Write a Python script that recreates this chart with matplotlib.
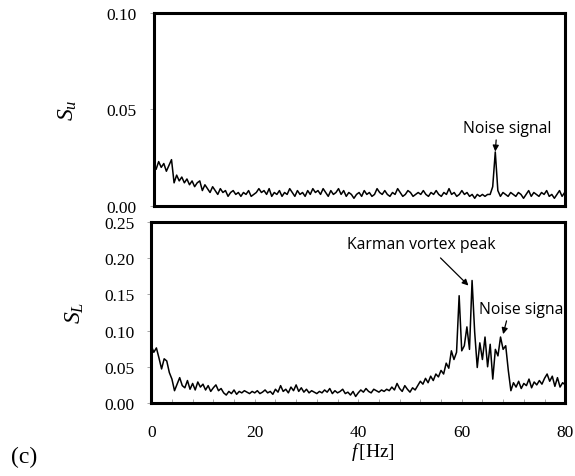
import numpy as np
import matplotlib
matplotlib.use('Agg')
import matplotlib.pyplot as plt
from matplotlib.ticker import MultipleLocator

plt.rcParams['mathtext.fontset'] = 'custom'
plt.rcParams['mathtext.rm'] = 'Liberation Serif'
plt.rcParams['mathtext.it'] = 'Liberation Serif:italic'
plt.rcParams['font.family'] = 'Liberation Serif'

# spectrum resolution (Hz per bin)
df_hz = 0.5

# streamwise velocity spectrum S_u
su = [0.021, 0.019, 0.023, 0.020, 0.022, 0.018, 0.021, 0.024, 0.012, 0.016, 0.013,
      0.015, 0.012, 0.014, 0.011, 0.013, 0.010, 0.012, 0.013, 0.008, 0.011,
      0.009, 0.007, 0.010, 0.008, 0.006, 0.009, 0.007, 0.008, 0.005, 0.007,
      0.008, 0.006, 0.007, 0.005, 0.007, 0.006, 0.008, 0.005, 0.006, 0.007,
      0.009, 0.007, 0.008, 0.006, 0.009, 0.005, 0.007, 0.006, 0.008, 0.005,
      0.007, 0.006, 0.009, 0.007, 0.005, 0.008, 0.006, 0.007, 0.005, 0.008,
      0.006, 0.009, 0.007, 0.008, 0.006, 0.009, 0.007, 0.005, 0.008, 0.006,
      0.007, 0.009, 0.006, 0.008, 0.005, 0.007, 0.006, 0.004, 0.006, 0.007,
      0.005, 0.008, 0.006, 0.007, 0.005, 0.006, 0.009, 0.007, 0.006, 0.008,
      0.006, 0.005, 0.007, 0.006, 0.009, 0.007, 0.005, 0.006, 0.008, 0.007,
      0.005, 0.006, 0.007, 0.006, 0.008, 0.006, 0.005, 0.007, 0.006, 0.008,
      0.006, 0.005, 0.007, 0.006, 0.009, 0.006, 0.007, 0.005, 0.006, 0.008,
      0.006, 0.007, 0.005, 0.006, 0.004, 0.006, 0.005, 0.006, 0.005, 0.006,
      0.006, 0.010, 0.028, 0.008, 0.005, 0.007, 0.006, 0.005, 0.007, 0.006,
      0.005, 0.007, 0.006, 0.004, 0.006, 0.008, 0.005, 0.007, 0.006, 0.005,
      0.007, 0.006, 0.008, 0.005, 0.006, 0.004, 0.006, 0.008, 0.005, 0.007]

# lift spectrum S_L
sl = [0.079, 0.070, 0.076, 0.062, 0.047, 0.061, 0.058, 0.042, 0.033, 0.017, 0.026,
      0.035, 0.024, 0.021, 0.031, 0.019, 0.027, 0.018, 0.029, 0.022, 0.026,
      0.018, 0.024, 0.016, 0.021, 0.025, 0.017, 0.020, 0.014, 0.011, 0.016,
      0.013, 0.018, 0.012, 0.016, 0.014, 0.017, 0.015, 0.013, 0.016, 0.014,
      0.017, 0.013, 0.015, 0.018, 0.014, 0.016, 0.012, 0.019, 0.015, 0.024,
      0.016, 0.019, 0.014, 0.022, 0.017, 0.025, 0.016, 0.021, 0.015, 0.019,
      0.014, 0.017, 0.015, 0.013, 0.016, 0.014, 0.018, 0.015, 0.020, 0.013,
      0.017, 0.014, 0.016, 0.019, 0.013, 0.015, 0.011, 0.016, 0.009, 0.014,
      0.018, 0.015, 0.020, 0.016, 0.014, 0.019, 0.017, 0.015, 0.018, 0.016,
      0.019, 0.017, 0.022, 0.018, 0.027, 0.020, 0.016, 0.024, 0.019, 0.015,
      0.021, 0.018, 0.024, 0.030, 0.026, 0.034, 0.028, 0.037, 0.031, 0.040,
      0.036, 0.045, 0.040, 0.055, 0.048, 0.072, 0.060, 0.070, 0.148, 0.072,
      0.079, 0.105, 0.074, 0.169, 0.098, 0.049, 0.083, 0.060, 0.091, 0.050,
      0.081, 0.033, 0.074, 0.065, 0.091, 0.074, 0.079, 0.045, 0.017, 0.028,
      0.022, 0.030, 0.020, 0.027, 0.024, 0.033, 0.021, 0.029, 0.025, 0.031,
      0.026, 0.034, 0.040, 0.030, 0.037, 0.023, 0.035, 0.022, 0.028, 0.025]

freq = np.arange(len(su)) * df_hz

fig = plt.figure(figsize=(5.75, 4.77), dpi=100)
ax1 = fig.add_axes([0.267, 0.566, 0.715, 0.405])
ax2 = fig.add_axes([0.263, 0.153, 0.720, 0.380])

for ax, vals in ((ax1, su), (ax2, sl)):
    ax.plot(freq, vals, color='black', lw=1.1)
    ax.set_xlim(0, 80)
    for s in ax.spines.values():
        s.set_linewidth(2.2)
    ax.tick_params(axis='y', direction='out', length=3, width=0.6, color='#999999',
                   labelsize=12.5, pad=9)

ann_font = dict(fontsize=11.3, family='Open Sans')
arrow = dict(arrowstyle='-|>', color='black', lw=0.9, mutation_scale=9)

# top panel
ax1.set_ylim(0, 0.10)
ax1.set_yticks([0.0, 0.05, 0.10])
ax1.set_yticklabels(['0.00', '0.05', '0.10'])
ax1.set_xticks([])
ax1.set_ylabel('$S_u$', fontsize=17, labelpad=20)
ax1.annotate('Noise signal', xy=(66.5, 0.0282), xytext=(68.8, 0.0405),
             ha='center', va='center', **ann_font,
             arrowprops=dict(arrow, shrinkA=1, shrinkB=0, relpos=(0.38, 0.0)))

# bottom panel
ax2.set_ylim(0, 0.25)
ax2.set_yticks([0.0, 0.05, 0.10, 0.15, 0.20, 0.25])
ax2.set_yticklabels(['0.00', '0.05', '0.10', '0.15', '0.20', '0.25'])
ax2.set_xticks([0, 20, 40, 60, 80])
ax2.xaxis.set_minor_locator(MultipleLocator(4))
ax2.tick_params(axis='x', which='both', direction='in', length=3, width=0.6,
                color='#999999', labelsize=12.5, pad=15)
ax2.set_ylabel('$S_L$', fontsize=17, labelpad=13)
ax2.set_xlabel('$f\\,$[Hz]', fontsize=14, labelpad=0)
ax2.xaxis.label.set_x(0.536)

ax2.annotate('Karman vortex peak', xy=(61.3, 0.162), xytext=(52.2, 0.219),
             ha='center', va='center', **ann_font,
             arrowprops=dict(arrow, shrinkA=3, shrinkB=0, relpos=(0.59, 0.0)))
# the label runs past the right spine and is cut there, as in the source figure
ax2.annotate('Noise signal', xy=(68.0, 0.095), xytext=(63.4, 0.130),
             ha='left', va='center', clip_on=True, **ann_font,
             arrowprops=dict(arrow, shrinkA=1, shrinkB=0, relpos=(0.32, 0.0)))

fig.text(0.02, 0.04, '(c)', fontsize=17, ha='left', va='center')

fig.savefig('out.png', dpi=100)
